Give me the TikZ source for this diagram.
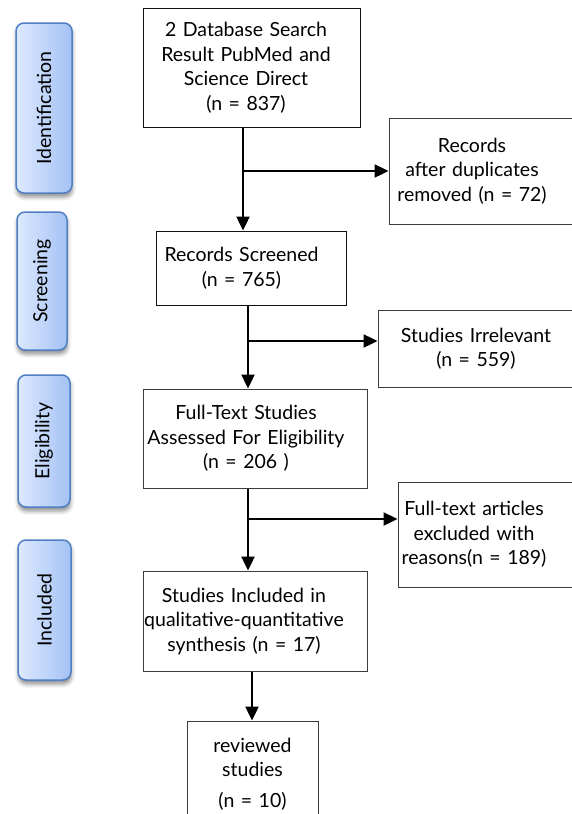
\documentclass[tikz,border=0pt]{standalone}
\usepackage{fontspec}
\setmainfont{Lato}
\usepackage{graphicx}
\usetikzlibrary{arrows.meta, positioning, shadows.blur}
\definecolor{phaselight}{HTML}{DDE9FE}
\definecolor{phasedark}{HTML}{A4C2F5}
\definecolor{phaseline}{HTML}{4F7FC2}
\definecolor{ink}{HTML}{111111}
\definecolor{rulecolor}{HTML}{3C3C3C}
\tikzset{
  phase/.style    ={draw=phaseline, line width=1.5pt, rounded corners=8pt,
                    left color=phaselight, right color=phasedark, inner sep=0pt,
                    blur shadow={shadow xshift=0.5pt, shadow yshift=-4pt,
                                 shadow blur radius=4pt, shadow opacity=45},
                    font=\fontsize{19.5}{24.5}\selectfont},
  textshift/.style={execute at begin node={\centering\rightskip=#1 plus 1fil}},
  box/.style      ={draw=ink, line width=1pt, inner xsep=0pt, inner ysep=0pt,
                    font=\fontsize{19.5}{24.5}\selectfont, textshift=0pt},
  sidebox/.style  ={box, draw=rulecolor},
  flow/.style     ={-{Triangle[length=14pt,width=13pt]}, line width=2.4pt, draw=black}
}
\begin{document}
\begin{tikzpicture}
  \useasboundingbox (0pt,0pt) rectangle (572pt,-814pt);

  % phases
  \node[phase, minimum width=56pt, minimum height=170pt] (ident)  at (44pt,-108pt)   {\rotatebox{90}{Identification}};
  \node[phase, minimum width=50pt, minimum height=138pt] (screen) at (42pt,-281pt)   {\rotatebox{90}{Screening}};
  \node[phase, minimum width=52pt, minimum height=132pt] (elig)   at (44pt,-441pt)   {\rotatebox{90}{Eligibility}};
  \node[phase, minimum width=53pt, minimum height=140pt] (incl)   at (44.5pt,-610pt) {\rotatebox{90}{Included}};

  % main chain
  \node[box, text width=217pt, minimum height=119pt, textshift=11pt] (db) at (251.5pt,-67.5pt)
    {2 Database Search\\Result PubMed and\\Science Direct\\(n = 837)};
  \node[box, text width=190pt, minimum height=74pt, textshift=20pt, below=103pt of db] (screened)
    {Records Screened\\(n = 765)};
  \node[sidebox, text width=224pt, minimum height=99pt, textshift=18pt, below=83pt of screened, xshift=3.5pt] (fulltext)
    {Full-Text Studies\\Assessed For Eligibility\\(n = 206 )};
  \node[sidebox, text width=224pt, minimum height=100pt, textshift=22pt, below=82pt of fulltext] (included)
    {Studies Included in\\qualitative-quantitative\\synthesis (n = 17)};
  \node[sidebox, text width=131pt, minimum height=106pt, below=49pt of included, xshift=-2.5pt] (reviewed)
    {reviewed\\studies\\[6pt](n = 10)};

  % side boxes
  \node[sidebox, text width=194pt, minimum height=106pt, textshift=28pt, right=28pt of db, yshift=-103.5pt] (dup)
    {Records\\after duplicates\\removed (n = 72)};
  \node[sidebox, text width=205pt, minimum height=77pt, textshift=9pt, right=30.5pt of screened, yshift=-80.5pt] (irrel)
    {Studies Irrelevant\\(n = 559)};
  \node[sidebox, text width=185pt, minimum height=105pt, textshift=33pt, right=30pt of fulltext, yshift=-96pt] (excl)
    {Full-text articles\\excluded with\\reasons(n = 189)};

  % arrows
  \coordinate (a1) at ([xshift=-8.5pt]db.south);
  \coordinate (a2) at ([xshift=-3.5pt]screened.south);
  \coordinate (a3) at ([xshift=-7pt]fulltext.south);
  \coordinate (a4) at ([xshift=-3pt]included.south);
  \coordinate (b2) at ([yshift=7.5pt]irrel.west);
  \coordinate (b3) at ([yshift=15.5pt]excl.west);

  \draw[flow] (a1) -- (a1 |- screened.north);
  \draw[flow] (a1 |- dup.west) -- (dup.west);
  \draw[flow] (a2) -- (a2 |- fulltext.north);
  \draw[flow] (a2 |- b2) -- (b2);
  \draw[flow] (a3) -- (a3 |- included.north);
  \draw[flow] (a3 |- b3) -- (b3);
  \draw[flow] (a4) -- (a4 |- reviewed.north);
\end{tikzpicture}
\end{document}
